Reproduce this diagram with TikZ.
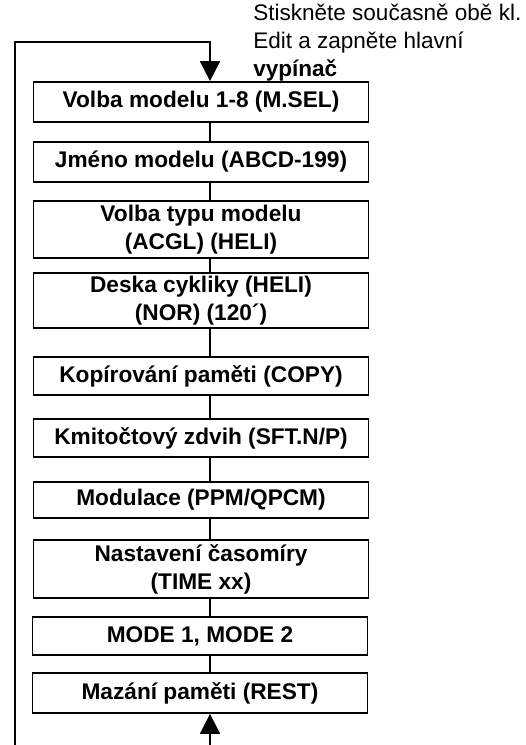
\documentclass[tikz,border=0pt]{standalone}
\usepackage{fontspec}
\setmainfont{Liberation Sans}
\usetikzlibrary{arrows.meta}
\begin{document}
\begin{tikzpicture}[x=0.75pt,y=-0.75pt,
  box/.style={draw, line width=1.3pt, minimum width=251.25pt, inner sep=0pt, align=center,
    font=\bfseries\fontsize{17}{21}\selectfont},
  link/.style={line width=1.2pt},
  arr/.style={line width=1.3pt, -{Triangle[length=15pt,width=15pt]}},
  note/.style={align=left, inner sep=0pt, font=\fontsize{16.9}{21}\selectfont}]
\useasboundingbox (0,0) rectangle (525,745);
\coordinate (spine) at (210,0);
\node[box, minimum height=30pt]    (b1)  at (201,102)   {Volba modelu 1-8 (M.SEL)};
\node[box, minimum height=30pt]    (b2)  at (201,162)   {Jméno modelu (ABCD-199)};
\node[box, minimum height=42.75pt] (b3)  at (201,229.5) {Volba typu modelu\\(ACGL) (HELI)};
\node[box, minimum height=41.25pt] (b4)  at (201,300.5) {Deska cykliky (HELI)\\(NOR) (120´)};
\node[box, minimum height=28.5pt]  (b5)  at (201,376)   {Kopírování paměti (COPY)};
\node[box, minimum height=28.5pt]  (b6)  at (201,438)   {Kmitočtový zdvih (SFT.N/P)};
\node[box, minimum height=27pt]    (b7)  at (201,500)   {Modulace (PPM/QPCM)};
\node[box, minimum height=43.5pt]  (b8)  at (201,569)   {Nastavení časomíry\\(TIME xx)};
\node[box, minimum height=28.5pt]  (b9)  at (200,636)   {MODE 1, MODE 2};
\node[box, minimum height=30pt]    (b10) at (200,693)   {Mazání paměti (REST)};
\node[note, anchor=north west] (txt) at (253,4)
  {Stiskněte současně obě kl.\\Edit a zapněte hlavní\\\textbf{vypínač}};
\foreach \a/\b in {b1/b2,b2/b3,b3/b4,b4/b5,b5/b6,b6/b7,b7/b8,b8/b9,b9/b10}
  \draw[link] (\a.south -| spine) -- (\b.north -| spine);
\coordinate (bl) at (15,745);
\coordinate (tc) at (210,42);
\coordinate (bb) at (210,745);
\draw[arr] (bl) |- (tc) -- (b1.north -| spine);
\draw[arr] (bb) -- (b10.south -| spine);
\end{tikzpicture}
\end{document}
